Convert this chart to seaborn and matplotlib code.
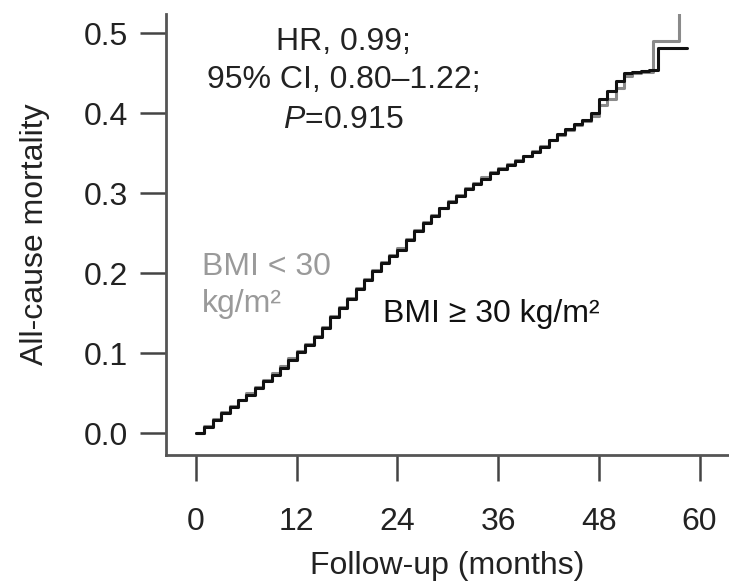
import numpy as np
import pandas as pd
import matplotlib
matplotlib.use("Agg")
import matplotlib.pyplot as plt
import seaborn as sns

# ---- data ----
months_hi = [0, 1, 2, 3, 4, 5, 6, 7, 8, 9, 10, 11, 12, 13, 14, 15, 16, 17, 18, 19,
             20, 21, 22, 23, 24, 25, 26, 27, 28, 29, 30, 31, 32, 33, 34, 35, 36, 37,
             38, 39, 40, 41, 42, 43, 44, 45, 46, 47, 48, 49, 50, 51, 52, 53, 54, 55, 58.5]
mort_hi = [0.000, 0.008, 0.017, 0.025, 0.033, 0.041, 0.048, 0.056, 0.065, 0.073,
           0.082, 0.092, 0.101, 0.110, 0.120, 0.131, 0.145, 0.157, 0.168, 0.180,
           0.192, 0.203, 0.213, 0.222, 0.229, 0.241, 0.253, 0.263, 0.272, 0.281,
           0.289, 0.297, 0.305, 0.312, 0.318, 0.325, 0.330, 0.335, 0.340, 0.346,
           0.352, 0.358, 0.367, 0.374, 0.380, 0.386, 0.391, 0.400, 0.418, 0.428,
           0.440, 0.450, 0.452, 0.453, 0.454, 0.482, 0.482]

months_lo = [0, 1, 2, 3, 4, 5, 6, 7, 8, 9, 10, 11, 12, 13, 14, 15, 16, 17, 18, 19,
             20, 21, 22, 23, 24, 25, 26, 27, 28, 29, 30, 31, 32, 33, 34, 35, 36, 37,
             38, 39, 40, 41, 42, 43, 44, 45, 46, 47, 48, 49, 50, 51, 52, 53, 54.5, 57.6, 57.6]
mort_lo = [0.000, 0.009, 0.018, 0.026, 0.034, 0.042, 0.050, 0.058, 0.066, 0.075,
           0.084, 0.094, 0.103, 0.112, 0.122, 0.133, 0.146, 0.158, 0.169, 0.181,
           0.193, 0.204, 0.214, 0.223, 0.231, 0.243, 0.254, 0.264, 0.273, 0.282,
           0.290, 0.298, 0.306, 0.313, 0.320, 0.326, 0.331, 0.336, 0.341, 0.347,
           0.353, 0.359, 0.366, 0.373, 0.379, 0.385, 0.390, 0.397, 0.410, 0.418,
           0.432, 0.446, 0.450, 0.452, 0.490, 0.490, 0.525]

groups = ["BMI < 30 kg/m²", "BMI ≥ 30 kg/m²"]
x_ticks = [0, 12, 24, 36, 48, 60]
y_ticks = [0.0, 0.1, 0.2, 0.3, 0.4, 0.5]

df = pd.concat([
    pd.DataFrame({"month": months_lo, "mortality": mort_lo, "group": groups[0]}),
    pd.DataFrame({"month": months_hi, "mortality": mort_hi, "group": groups[1]}),
], ignore_index=True)

sns.set_theme(style="white")
plt.rcParams["font.family"] = ["Liberation Sans", "DejaVu Sans"]
plt.rcParams["mathtext.fontset"] = "custom"
plt.rcParams["mathtext.it"] = "Liberation Sans:italic"
plt.rcParams["mathtext.rm"] = "Liberation Sans"

fig = plt.figure(figsize=(7.29, 5.88), dpi=100)
ax = fig.add_axes([0.2277, 0.226, 0.7723, 0.75])

sns.lineplot(data=df, x="month", y="mortality", hue="group",
             palette={groups[0]: "#8a8a8a", groups[1]: "#111111"},
             estimator=None, sort=False, drawstyle="steps-post",
             linewidth=2.2, legend=False, ax=ax)

ax.set_xlim(-3.58, 63.5)
ax.set_ylim(-0.0275, 0.524)
ax.set_xticks(x_ticks)
ax.set_xticklabels([str(v) for v in x_ticks])
ax.set_yticks(y_ticks)
ax.set_yticklabels([f"{v:.1f}" for v in y_ticks])

for s in ["top", "right"]:
    ax.spines[s].set_visible(False)
for s in ["left", "bottom"]:
    ax.spines[s].set_color("#555555")
    ax.spines[s].set_linewidth(2)

txt = "#222222"
fs = 23
ax.tick_params(axis="both", which="major", bottom=True, left=True,
               direction="out", length=18.5, width=1.8,
               color="#444444", labelsize=fs, labelcolor=txt)
ax.tick_params(axis="y", pad=9)
ax.tick_params(axis="x", pad=19)

ax.set_xlabel("Follow-up (months)", fontsize=fs, color=txt, labelpad=10)
ax.set_ylabel("All-cause mortality", fontsize=fs, color=txt, labelpad=24)

ax.text(17.6, 0.489, "HR, 0.99;", ha="center", va="center", fontsize=fs, color=txt)
ax.text(17.6, 0.441, "95% CI, 0.80–1.22;", ha="center", va="center", fontsize=fs, color=txt)
ax.text(17.6, 0.391, r"$\it{P}$=0.915", ha="center", va="center", fontsize=fs, color=txt)

ax.text(0.7, 0.1975, "BMI < 30", ha="left", va="baseline", fontsize=fs, color="#9a9a9a")
ax.text(0.7, 0.151, "kg/m²", ha="left", va="baseline", fontsize=fs, color="#9a9a9a")
ax.text(22.3, 0.139, "BMI ≥ 30 kg/m²", ha="left", va="baseline", fontsize=fs, color="#111111")

fig.savefig("out.png", dpi=100)
